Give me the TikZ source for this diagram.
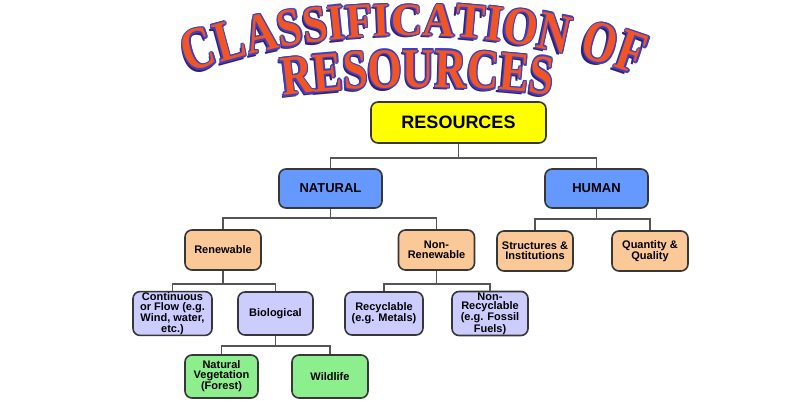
\documentclass[tikz,border=0pt]{standalone}
\usepackage{fontspec}
\setmainfont{Liberation Sans}
\newfontfamily\ttlfont{Liberation Serif}
\definecolor{boxline}{RGB}{55,55,55}
\definecolor{linkc}{RGB}{85,85,85}
\definecolor{yel}{RGB}{255,255,0}
\definecolor{blu}{RGB}{102,153,255}
\definecolor{pch}{RGB}{251,200,152}
\definecolor{lav}{RGB}{204,204,255}
\definecolor{grn}{RGB}{140,238,140}
\definecolor{ttlfill}{RGB}{240,85,35}
\definecolor{ttlout}{RGB}{60,65,195}
\definecolor{ttlshadow}{RGB}{55,30,110}
\tikzset{
  box/.style={draw=boxline, line width=1.6pt, rounded corners=7pt, align=center,
    inner sep=1pt, font=\bfseries\fontsize{11}{9.6}\selectfont},
  lvlA/.style={box, fill=yel, minimum width=175pt, minimum height=41pt, font=\bfseries\fontsize{18}{20}\selectfont},
  lvlB/.style={box, fill=blu, minimum width=103pt, minimum height=39pt, font=\bfseries\fontsize{13}{15}\selectfont},
  lvlC/.style={box, fill=pch, minimum width=76pt, minimum height=40pt},
  lvlD/.style={box, fill=lav, minimum width=77pt, minimum height=43pt},
  lvlE/.style={box, fill=grn, minimum width=74pt, minimum height=43pt},
  link/.style={draw=linkc, line width=1.8pt},
  ttl/.style={anchor=base, inner sep=0pt, font=\ttlfont\bfseries\fontsize{44}{48}\selectfont}
}
\newcommand\ttlpass[1]{%
  \foreach \ch/\xx in {C/204,L/234.5,A/265,S/293,S/317.7,I/338.5,F/360.5,I/382.5,C/407,A/438.7,T/469,I/492.5,O/518,N/551,O/595,F/625.6}{%
    \pgfmathsetmacro\ang{asin((\xx-410)/670)}%
    \pgfmathsetmacro\yy{705.5-670*cos(\ang)}%
    \pgfmathsetmacro\ys{1.04+0.34*abs(\xx-410)/215}%
    \node[rotate=-\ang, ttl, yscale=\ys, #1] at (\xx,\yy) {\ch};}%
  \foreach \ch/\xx in {R/298.9,E/329.5,S/356.4,O/385.7,U/418.7,R/450.5,C/482.3,E/512.9,S/539.8}{%
    \pgfmathsetmacro\ang{asin((\xx-420)/1050)}%
    \pgfmathsetmacro\yy{1137-1050*cos(\ang)}%
    \node[rotate=-\ang, ttl, yscale=1.28, #1] at (\xx,\yy) {\ch};}%
}
\begin{document}
\begin{tikzpicture}[x=1pt, y=-1pt]
\useasboundingbox[fill=white] (0,0) rectangle (800,400);
% title
\ttlpass{text=ttlshadow, xshift=-2.2pt, yshift=-2.2pt}
\foreach \dx/\dy in {1.2/0,-1.2/0,0/1.2,0/-1.2,0.85/0.85,-0.85/0.85,0.85/-0.85,-0.85/-0.85}{%
  \ttlpass{text=ttlout, xshift=\dx pt, yshift=\dy pt}}
\ttlpass{text=ttlfill}
% boxes
\node[lvlA] (res) at (458.5,122.5) {RESOURCES};
\node[lvlB] (nat) at (330.5,188.5) {NATURAL};
\node[lvlB] (hum) at (596.5,188.5) {HUMAN};
\node[lvlC] (ren) at (223,250) {Renewable};
\node[lvlC] (nonren) at (436.5,250) {Non-\\Renewable};
\node[lvlC] (str) at (535,251) {Structures \&\\Institutions};
\node[lvlC] (qua) at (650,251) {Quantity \&\\Quality};
\node[lvlD, minimum width=79pt] (con) at (172.5,313.5) {Continuous\\or Flow (e.g.\\Wind, water,\\etc.)};
\node[lvlD, minimum width=75pt] (bio) at (275.5,313.5) {Biological};
\node[lvlD, minimum width=78pt] (rec) at (384,313.5) {Recyclable\\(e.g. Metals)};
\node[lvlD, minimum width=76pt] (nrec) at (490,313.5) {Non-\\Recyclable\\(e.g. Fossil\\Fuels)};
\node[lvlE, minimum width=73pt] (veg) at (221.5,376.5) {Natural\\Vegetation\\(Forest)};
\node[lvlE, minimum width=76pt] (wil) at (330,376.5) {Wildlife};
% connectors
\draw[link] (res.south) -- ++(0,14) coordinate (b1);
\draw[link] (nat.north) |- (b1) -| (hum.north);
\draw[link] (nat.south) -- ++(0,9) coordinate (b2);
\draw[link] (ren.north) |- (b2) -| (nonren.north);
\draw[link] (hum.south) -- ++(0,10) coordinate (b3);
\draw[link] (str.north) |- (b3) -| (qua.north);
\draw[link] (ren.south) -- ++(0,13) coordinate (b4);
\draw[link] (con.north) |- (b4) -| (bio.north);
\draw[link] (nonren.south) -- ++(0,13) coordinate (b5);
\draw[link] (rec.north) |- (b5) -| (nrec.north);
\draw[link] (bio.south) -- ++(0,10) coordinate (b6);
\draw[link] (veg.north) |- (b6) -| (wil.north);
\end{tikzpicture}
\end{document}
